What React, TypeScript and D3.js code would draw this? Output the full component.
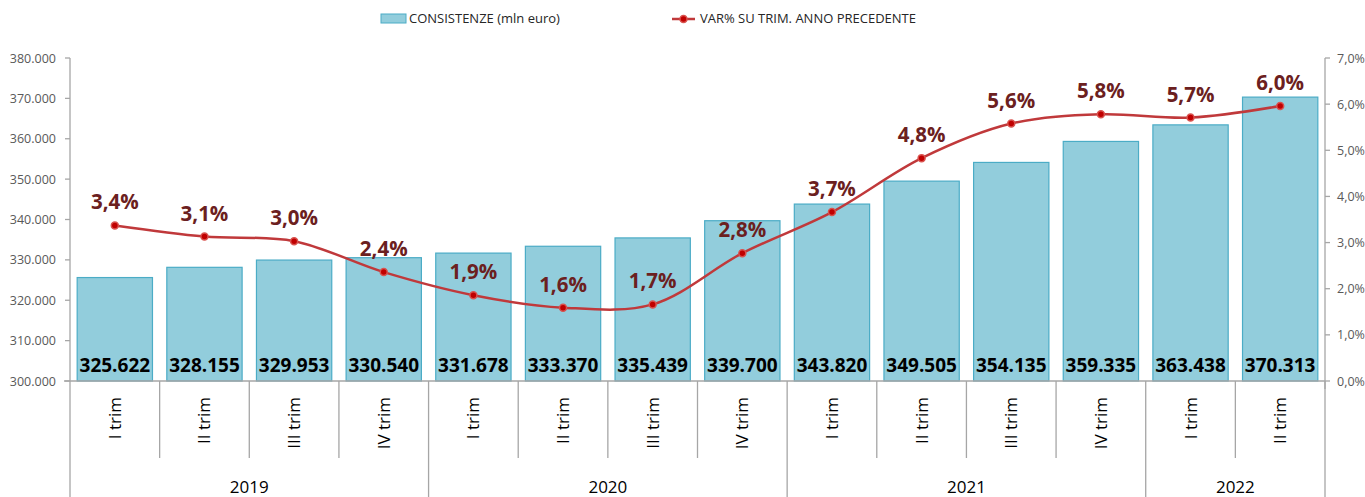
import React from "react";
import * as d3 from "d3";

const quarters = ["I trim", "II trim", "III trim", "IV trim", "I trim", "II trim", "III trim", "IV trim", "I trim", "II trim", "III trim", "IV trim", "I trim", "II trim"];
const years = ["2019", "2020", "2021", "2022"];
const yearSpans = [4, 4, 4, 2];
const consistenze = [325622, 328155, 329953, 330540, 331678, 333370, 335439, 339700, 343820, 349505, 354135, 359335, 363438, 370313];
const varPct = [3.37, 3.13, 3.03, 2.36, 1.86, 1.59, 1.66, 2.77, 3.66, 4.83, 5.58, 5.78, 5.71, 5.96];
const varLabels = ["3,4%", "3,1%", "3,0%", "2,4%", "1,9%", "1,6%", "1,7%", "2,8%", "3,7%", "4,8%", "5,6%", "5,8%", "5,7%", "6,0%"];
const leftTicks = [300000, 310000, 320000, 330000, 340000, 350000, 360000, 370000, 380000];
const rightTicks = [0, 1, 2, 3, 4, 5, 6, 7];

const W = 1365, H = 497;
const L = 70, R = 1325, T = 58, B = 381;
const FONT = "'Open Sans', 'Noto Sans', sans-serif";

export default function App() {
  const idx = quarters.map((_, i) => i);
  const x = d3.scaleBand<number>().domain(idx).range([L, R]).paddingInner(0.16).paddingOuter(0.08);
  const step = (R - L) / quarters.length;
  const yL = d3.scaleLinear().domain([300000, 380000]).range([B, T]);
  const yR = d3.scaleLinear().domain([0, 7]).range([B, T]);
  const fmtL = (v: number) => d3.format(",")(v).replace(/,/g, ".");
  const fmtR = (v: number) => v.toFixed(1).replace(".", ",") + "%";
  const cx = (i: number) => (x(i) as number) + x.bandwidth() / 2;
  const line = d3.line<number>().x((_, i) => cx(i)).y((d) => yR(d)).curve(d3.curveCatmullRom.alpha(0.5));

  const yearBounds: number[] = [0];
  yearSpans.reduce((acc, s) => { yearBounds.push(acc + s); return acc + s; }, 0);

  return (
    <svg width={W} height={H} style={{ position: "absolute", left: 0, top: 0, background: "#fff" }} fontFamily={FONT}>
      {/* legend */}
      <rect x={381} y={14} width={25} height={9} fill="#92cddc" stroke="#4bacc6" />
      <text x={409} y={23} fontSize={13} fill="#262626">CONSISTENZE (mln euro)</text>
      <line x1={672} x2={695} y1={19} y2={19} stroke="#c0393b" strokeWidth={2.5} />
      <circle cx={683.5} cy={19} r={3.5} fill="#c00000" stroke="#d9534f" strokeWidth={1.5} />
      <text x={700} y={23} fontSize={13} fill="#262626">VAR% SU TRIM. ANNO PRECEDENTE</text>

      {/* bars */}
      {consistenze.map((v, i) => (
        <rect key={i} x={x(i)} y={yL(v)} width={x.bandwidth()} height={B - yL(v)} fill="#92cddc" stroke="#4bacc6" strokeWidth={1.2} />
      ))}
      {consistenze.map((v, i) => (
        <text key={"bl" + i} x={cx(i)} y={372} textAnchor="middle" fontSize={19} fontWeight="bold" fill="#000">{fmtL(v)}</text>
      ))}

      {/* left axis */}
      <line x1={L} x2={L} y1={T} y2={B} stroke="#a6a6a6" strokeWidth={1.3} />
      {leftTicks.map((t) => (
        <g key={t}>
          <line x1={L - 5} x2={L} y1={yL(t)} y2={yL(t)} stroke="#a6a6a6" strokeWidth={1.3} />
          <text x={56} y={yL(t) + 4.5} textAnchor="end" fontSize={12.5} fill="#595959">{fmtL(t)}</text>
        </g>
      ))}

      {/* right axis */}
      <line x1={R} x2={R} y1={T} y2={B + 8} stroke="#a6a6a6" strokeWidth={1.3} />
      {rightTicks.map((t) => (
        <g key={t}>
          <line x1={R} x2={R + 5} y1={yR(t)} y2={yR(t)} stroke="#a6a6a6" strokeWidth={1.3} />
          <text x={1337} y={yR(t) + 4.5} fontSize={12.5} fill="#595959">{fmtR(t)}</text>
        </g>
      ))}

      {/* category axis */}
      <line x1={L - 6} x2={R} y1={B} y2={B} stroke="#a6a6a6" strokeWidth={1.3} />
      {d3.range(quarters.length + 1).map((i) => {
        const isYear = yearBounds.includes(i);
        return <line key={"sep" + i} x1={L + i * step} x2={L + i * step} y1={B} y2={isYear ? H : 458} stroke="#a6a6a6" strokeWidth={1.3} />;
      })}
      {quarters.map((q, i) => (
        <text key={"q" + i} transform={`translate(${cx(i) + 6},397) rotate(-90)`} textAnchor="end" fontSize={17} fill="#000">{q}</text>
      ))}
      {years.map((y, j) => {
        const mid = L + ((yearBounds[j] + yearBounds[j + 1]) / 2) * step;
        return <text key={y} x={mid} y={493} textAnchor="middle" fontSize={17} fill="#000">{y}</text>;
      })}

      {/* line */}
      <path d={line(varPct) || ""} fill="none" stroke="#c0393b" strokeWidth={2.5} />
      {varPct.map((v, i) => (
        <circle key={"p" + i} cx={cx(i)} cy={yR(v)} r={3.5} fill="#c00000" stroke="#d9534f" strokeWidth={1.5} />
      ))}
      {varPct.map((v, i) => (
        <text key={"vl" + i} x={cx(i)} y={yR(v) - 16} textAnchor="middle" fontSize={20.5} fontWeight="bold" fill="#6b2020">{varLabels[i]}</text>
      ))}
    </svg>
  );
}
